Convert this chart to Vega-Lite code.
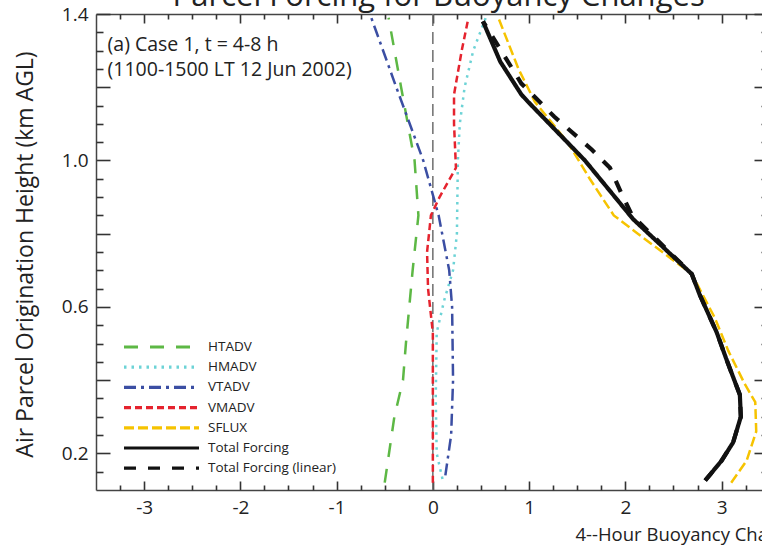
{
  "$schema": "https://vega.github.io/schema/vega-lite/v6.json",
  "width": 666,
  "height": 476,
  "autosize": {"type": "none"},
  "padding": {"left": 96, "top": 14, "right": 0, "bottom": 56},
  "background": "white",
  "config": {
    "view": {"stroke": null},
    "font": "Open Sans",
    "axis": {"grid": false, "labelFont": "Open Sans", "titleFont": "Open Sans", "labelColor": "#222", "titleColor": "#222", "titleFontWeight": "normal", "domainColor": "#444", "tickColor": "#333", "domainWidth": 1.5, "tickWidth": 1.6, "labelOverlap": false},
    "legend": {"labelFont": "Open Sans"}
  },
  "datasets": {
    "lines": [
      {"s": "HTADV", "h": 1.39, "x": -0.46},
      {"s": "HTADV", "h": 1.2, "x": -0.33},
      {"s": "HTADV", "h": 1.0, "x": -0.19},
      {"s": "HTADV", "h": 0.85, "x": -0.15},
      {"s": "HTADV", "h": 0.7, "x": -0.21},
      {"s": "HTADV", "h": 0.5, "x": -0.28},
      {"s": "HTADV", "h": 0.4, "x": -0.31},
      {"s": "HTADV", "h": 0.3, "x": -0.4},
      {"s": "HTADV", "h": 0.12, "x": -0.5},
      {"s": "HMADV", "h": 1.39, "x": 0.55},
      {"s": "HMADV", "h": 1.3, "x": 0.42},
      {"s": "HMADV", "h": 1.2, "x": 0.33},
      {"s": "HMADV", "h": 1.1, "x": 0.28},
      {"s": "HMADV", "h": 1.0, "x": 0.26},
      {"s": "HMADV", "h": 0.8, "x": 0.25},
      {"s": "HMADV", "h": 0.7, "x": 0.21},
      {"s": "HMADV", "h": 0.62, "x": 0.12},
      {"s": "HMADV", "h": 0.53, "x": 0.04},
      {"s": "HMADV", "h": 0.35, "x": 0.03},
      {"s": "HMADV", "h": 0.2, "x": 0.04},
      {"s": "HMADV", "h": 0.13, "x": 0.1},
      {"s": "VTADV", "h": 1.39, "x": -0.64},
      {"s": "VTADV", "h": 1.2, "x": -0.38},
      {"s": "VTADV", "h": 1.0, "x": -0.1},
      {"s": "VTADV", "h": 0.85, "x": 0.06},
      {"s": "VTADV", "h": 0.7, "x": 0.17},
      {"s": "VTADV", "h": 0.6, "x": 0.2},
      {"s": "VTADV", "h": 0.4, "x": 0.21},
      {"s": "VTADV", "h": 0.25, "x": 0.19},
      {"s": "VTADV", "h": 0.14, "x": 0.13},
      {"s": "VMADV", "h": 1.39, "x": 0.37},
      {"s": "VMADV", "h": 1.3, "x": 0.3},
      {"s": "VMADV", "h": 1.18, "x": 0.22},
      {"s": "VMADV", "h": 1.1, "x": 0.22},
      {"s": "VMADV", "h": 0.98, "x": 0.24},
      {"s": "VMADV", "h": 0.9, "x": 0.07},
      {"s": "VMADV", "h": 0.85, "x": -0.02},
      {"s": "VMADV", "h": 0.75, "x": -0.06},
      {"s": "VMADV", "h": 0.65, "x": -0.05},
      {"s": "VMADV", "h": 0.53, "x": 0.0},
      {"s": "VMADV", "h": 0.12, "x": 0.0},
      {"s": "SFLUX", "h": 1.39, "x": 0.68},
      {"s": "SFLUX", "h": 1.25, "x": 0.89},
      {"s": "SFLUX", "h": 1.16, "x": 1.06},
      {"s": "SFLUX", "h": 1.05, "x": 1.4},
      {"s": "SFLUX", "h": 0.95, "x": 1.63},
      {"s": "SFLUX", "h": 0.85, "x": 1.88},
      {"s": "SFLUX", "h": 0.8, "x": 2.13},
      {"s": "SFLUX", "h": 0.69, "x": 2.69},
      {"s": "SFLUX", "h": 0.57, "x": 2.93},
      {"s": "SFLUX", "h": 0.48, "x": 3.07},
      {"s": "SFLUX", "h": 0.39, "x": 3.24},
      {"s": "SFLUX", "h": 0.34, "x": 3.35},
      {"s": "SFLUX", "h": 0.26, "x": 3.36},
      {"s": "SFLUX", "h": 0.18, "x": 3.26},
      {"s": "SFLUX", "h": 0.12, "x": 3.1},
      {"s": "Total Forcing (linear)", "h": 1.38, "x": 0.52},
      {"s": "Total Forcing (linear)", "h": 1.3, "x": 0.71},
      {"s": "Total Forcing (linear)", "h": 1.21, "x": 0.92},
      {"s": "Total Forcing (linear)", "h": 1.12, "x": 1.26},
      {"s": "Total Forcing (linear)", "h": 1.03, "x": 1.65},
      {"s": "Total Forcing (linear)", "h": 0.98, "x": 1.84},
      {"s": "Total Forcing (linear)", "h": 0.91, "x": 1.96},
      {"s": "Total Forcing (linear)", "h": 0.85, "x": 2.07},
      {"s": "Total Forcing (linear)", "h": 0.69, "x": 2.69},
      {"s": "Total Forcing (linear)", "h": 0.635, "x": 2.77},
      {"s": "Total Forcing (linear)", "h": 0.53, "x": 2.95},
      {"s": "Total Forcing (linear)", "h": 0.45, "x": 3.06},
      {"s": "Total Forcing (linear)", "h": 0.36, "x": 3.19},
      {"s": "Total Forcing (linear)", "h": 0.3, "x": 3.2},
      {"s": "Total Forcing (linear)", "h": 0.23, "x": 3.12},
      {"s": "Total Forcing (linear)", "h": 0.18, "x": 3.0},
      {"s": "Total Forcing (linear)", "h": 0.126, "x": 2.83},
      {"s": "Total Forcing", "h": 1.38, "x": 0.52},
      {"s": "Total Forcing", "h": 1.27, "x": 0.7},
      {"s": "Total Forcing", "h": 1.18, "x": 0.92},
      {"s": "Total Forcing", "h": 1.16, "x": 0.99},
      {"s": "Total Forcing", "h": 1.0, "x": 1.58},
      {"s": "Total Forcing", "h": 0.84, "x": 2.08},
      {"s": "Total Forcing", "h": 0.69, "x": 2.69},
      {"s": "Total Forcing", "h": 0.635, "x": 2.77},
      {"s": "Total Forcing", "h": 0.53, "x": 2.95},
      {"s": "Total Forcing", "h": 0.45, "x": 3.06},
      {"s": "Total Forcing", "h": 0.36, "x": 3.19},
      {"s": "Total Forcing", "h": 0.3, "x": 3.2},
      {"s": "Total Forcing", "h": 0.23, "x": 3.12},
      {"s": "Total Forcing", "h": 0.18, "x": 3.0},
      {"s": "Total Forcing", "h": 0.126, "x": 2.83}
    ],
    "notes": [
      {"t": "(a) Case 1, t = 4-8 h", "x": -3.38, "h": 1.314},
      {"t": "(1100-1500 LT 12 Jun 2002)", "x": -3.38, "h": 1.246}
    ],
    "heading": [
      {"t": "Parcel Forcing for Buoyancy Changes", "x": 0.06, "h": 1.421}
    ]
  },
  "layer": [
    {
      "data": {"values": [{"z": 0}]},
      "mark": {"type": "rule", "color": "#6e6e6e", "strokeWidth": 1.5, "strokeDash": [12, 6]},
      "encoding": {
        "x": {"field": "z", "type": "quantitative", "scale": {"domain": [-3.5, 3.42], "nice": false, "zero": false}, "axis": null}
      }
    },
    {
      "data": {"name": "lines"},
      "transform": [{"filter": "indexof(datum.s, 'Total') < 0"}],
      "mark": {"type": "line", "strokeWidth": 2.5},
      "encoding": {
        "x": {"field": "x", "type": "quantitative", "scale": {"domain": [-3.5, 3.42], "nice": false, "zero": false},
          "axis": {"orient": "bottom", "values": [-3, -2, -1, 0, 1, 2, 3],
            "labelExpr": "replace(format(datum.value, 'd'), '\u2212', '-')",
            "tickSize": -9, "labelPadding": 17, "labelFontSize": 19,
            "title": "4--Hour Buoyancy Change (K)", "titleFontSize": 18.5, "titleAnchor": "start", "titleAlign": "left", "titleBaseline": "alphabetic", "titleX": 479, "titleY": 50}},
        "y": {"field": "h", "type": "quantitative", "scale": {"domain": [0.1, 1.4], "nice": false, "zero": false},
          "axis": {"orient": "left", "values": [0.2, 0.4, 0.6, 0.8, 1.0, 1.2, 1.4],
            "labelExpr": "abs((datum.value - 0.2) / 0.4 - round((datum.value - 0.2) / 0.4)) < 0.001 ? format(datum.value, '.1f') : ''",
            "tickSize": -14, "labelPadding": 22, "labelFontSize": 19,
            "title": "Air Parcel Origination Height (km AGL)", "titleFontSize": 23, "titleAngle": -90, "titleAlign": "center", "titleBaseline": "middle", "titleX": -71, "titleY": 240}},
        "order": {"field": "h", "type": "quantitative"},
        "color": {"field": "s", "type": "nominal",
          "scale": {"domain": ["HTADV", "HMADV", "VTADV", "VMADV", "SFLUX", "Total Forcing", "Total Forcing (linear)"], "range": ["#5db845", "#6dd3d6", "#3b4ea3", "#e5232e", "#f6c300", "#111111", "#111111"]},
          "legend": {"title": null, "orient": "none", "legendX": 26, "legendY": 323, "symbolType": "stroke", "symbolSize": 5625, "symbolStrokeWidth": 3.2, "clipHeight": 20, "rowPadding": 0.2, "labelFontSize": 13.5, "labelColor": "#222", "labelOffset": 7}},
        "strokeDash": {"field": "s", "type": "nominal",
          "scale": {"domain": ["HTADV", "HMADV", "VTADV", "VMADV", "SFLUX", "Total Forcing", "Total Forcing (linear)"], "range": [[14, 12], [2.5, 5], [12, 5, 3, 5], [7, 4], [10, 4], [1, 0], [12, 12]]},
          "legend": {"title": null}}
      }
    },
    {
      "data": {"name": "lines"},
      "transform": [{"filter": "indexof(datum.s, 'Total') >= 0"}],
      "mark": {"type": "line", "strokeWidth": 4.2},
      "encoding": {
        "x": {"field": "x", "type": "quantitative", "scale": {"domain": [-3.5, 3.42], "nice": false, "zero": false}, "axis": null},
        "y": {"field": "h", "type": "quantitative", "scale": {"domain": [0.1, 1.4], "nice": false, "zero": false}, "axis": null},
        "order": {"field": "h", "type": "quantitative"},
        "color": {"field": "s", "type": "nominal"},
        "strokeDash": {"field": "s", "type": "nominal"}
      }
    },
    {
      "data": {"name": "notes"},
      "mark": {"type": "text", "align": "left", "baseline": "middle", "fontSize": 19.5, "font": "Open Sans", "color": "#222"},
      "encoding": {
        "x": {"field": "x", "type": "quantitative", "scale": {"domain": [-3.5, 3.42], "nice": false, "zero": false},
          "axis": {"orient": "top", "values": [-3, -2, -1, 0, 1, 2, 3], "labels": false, "tickSize": -9, "title": null}},
        "y": {"field": "h", "type": "quantitative", "scale": {"domain": [0.1, 1.4], "nice": false, "zero": false},
          "axis": {"orient": "right", "offset": 6, "values": [0.2, 0.4, 0.6, 0.8, 1.0, 1.2, 1.4], "labels": false, "tickSize": -14, "title": null}},
        "text": {"field": "t"}
      }
    },
    {
      "data": {"name": "notes"},
      "mark": {"type": "point", "opacity": 0},
      "encoding": {
        "x": {"field": "x", "type": "quantitative", "scale": {"domain": [-3.5, 3.42], "nice": false, "zero": false},
          "axis": {"orient": "bottom", "values": [-3.25, -2.75, -2.5, -2.25, -1.75, -1.5, -1.25, -0.75, -0.5, -0.25, 0.25, 0.5, 0.75, 1.25, 1.5, 1.75, 2.25, 2.5, 2.75, 3.25], "tickCount": 0, "labels": false, "domain": false, "tickSize": -5, "title": null}},
        "y": {"field": "h", "type": "quantitative", "scale": {"domain": [0.1, 1.4], "nice": false, "zero": false},
          "axis": {"orient": "right", "offset": 6, "values": [0.15, 0.25, 0.3, 0.35, 0.45, 0.5, 0.55, 0.65, 0.7, 0.75, 0.85, 0.9, 0.95, 1.05, 1.1, 1.15, 1.25, 1.3, 1.35], "tickCount": 0, "labels": false, "domain": false, "tickSize": -7, "title": null}}
      }
    },
    {
      "data": {"name": "notes"},
      "mark": {"type": "point", "opacity": 0},
      "encoding": {
        "x": {"field": "x", "type": "quantitative", "scale": {"domain": [-3.5, 3.42], "nice": false, "zero": false},
          "axis": {"orient": "top", "values": [-3.25, -2.75, -2.5, -2.25, -1.75, -1.5, -1.25, -0.75, -0.5, -0.25, 0.25, 0.5, 0.75, 1.25, 1.5, 1.75, 2.25, 2.5, 2.75, 3.25], "tickCount": 0, "labels": false, "domain": false, "tickSize": -5, "title": null}},
        "y": {"field": "h", "type": "quantitative", "scale": {"domain": [0.1, 1.4], "nice": false, "zero": false},
          "axis": {"orient": "left", "values": [0.15, 0.25, 0.3, 0.35, 0.45, 0.5, 0.55, 0.65, 0.7, 0.75, 0.85, 0.9, 0.95, 1.05, 1.1, 1.15, 1.25, 1.3, 1.35], "tickCount": 0, "labels": false, "domain": false, "tickSize": -7, "title": null}}
      }
    },
    {
      "data": {"name": "heading"},
      "mark": {"type": "text", "align": "center", "baseline": "alphabetic", "fontSize": 31, "font": "Open Sans", "color": "#222", "clip": false},
      "encoding": {
        "x": {"field": "x", "type": "quantitative", "scale": {"domain": [-3.5, 3.42], "nice": false, "zero": false}, "axis": null},
        "y": {"field": "h", "type": "quantitative", "scale": {"domain": [0.1, 1.4], "nice": false, "zero": false}, "axis": null},
        "text": {"field": "t"}
      }
    }
  ],
  "resolve": {"axis": {"x": "independent", "y": "independent"}}
}
